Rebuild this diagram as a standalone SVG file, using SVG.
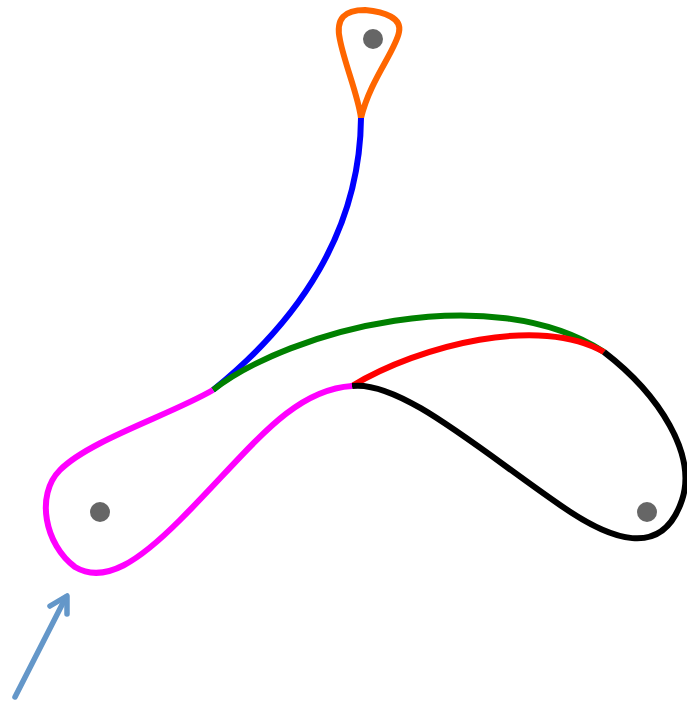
<svg xmlns="http://www.w3.org/2000/svg" width="687" height="704" viewBox="0 0 687 704">
<style>
.c{fill:none;stroke-width:6;stroke-linecap:butt}
.d{fill:#666}
</style>
<rect width="687" height="704" fill="#fff"/>
<g id="connectors">
<path id="orange" class="c" stroke="#ff6600" d="M361,118 C358,95 345,65 340,40 C335,18 345,10 365,10 C385,12 402,18 399,32 C396,50 370,80 361,118"/>
<path id="blue" class="c" stroke="#0000ff" d="M361,118 C360,230 300,320 213,390"/>
<path id="green" class="c" stroke="#008000" d="M213,390 C290,330 490,278 604,352"/>
<path id="red" class="c" stroke="#ff0000" d="M352,386 C420,345 540,315 604,352"/>
<path id="black" class="c" stroke="#000" d="M352,386 C400,380 480,450 560,505 C610,540 662,560 682,500 C697,455 660,395 604,352"/>
<path id="magenta" class="c" stroke="#ff00ff" d="M213,390 C170,415 90,440 60,470 C35,495 45,545 75,567 C105,585 140,560 180,520 C250,450 290,390 352,386"/>
<g id="arrow" stroke="#6497c9" stroke-width="5.5" fill="none" stroke-linecap="round" stroke-linejoin="round">
<line x1="15" y1="697" x2="66" y2="597"/>
<polyline points="50,606 67,596 67,614"/>
</g>
</g>
<g id="node-top"><circle class="d" cx="373" cy="39" r="10"/></g>
<g id="node-left"><circle class="d" cx="100" cy="512" r="10"/></g>
<g id="node-right"><circle class="d" cx="647" cy="512" r="10"/></g>
</svg>
